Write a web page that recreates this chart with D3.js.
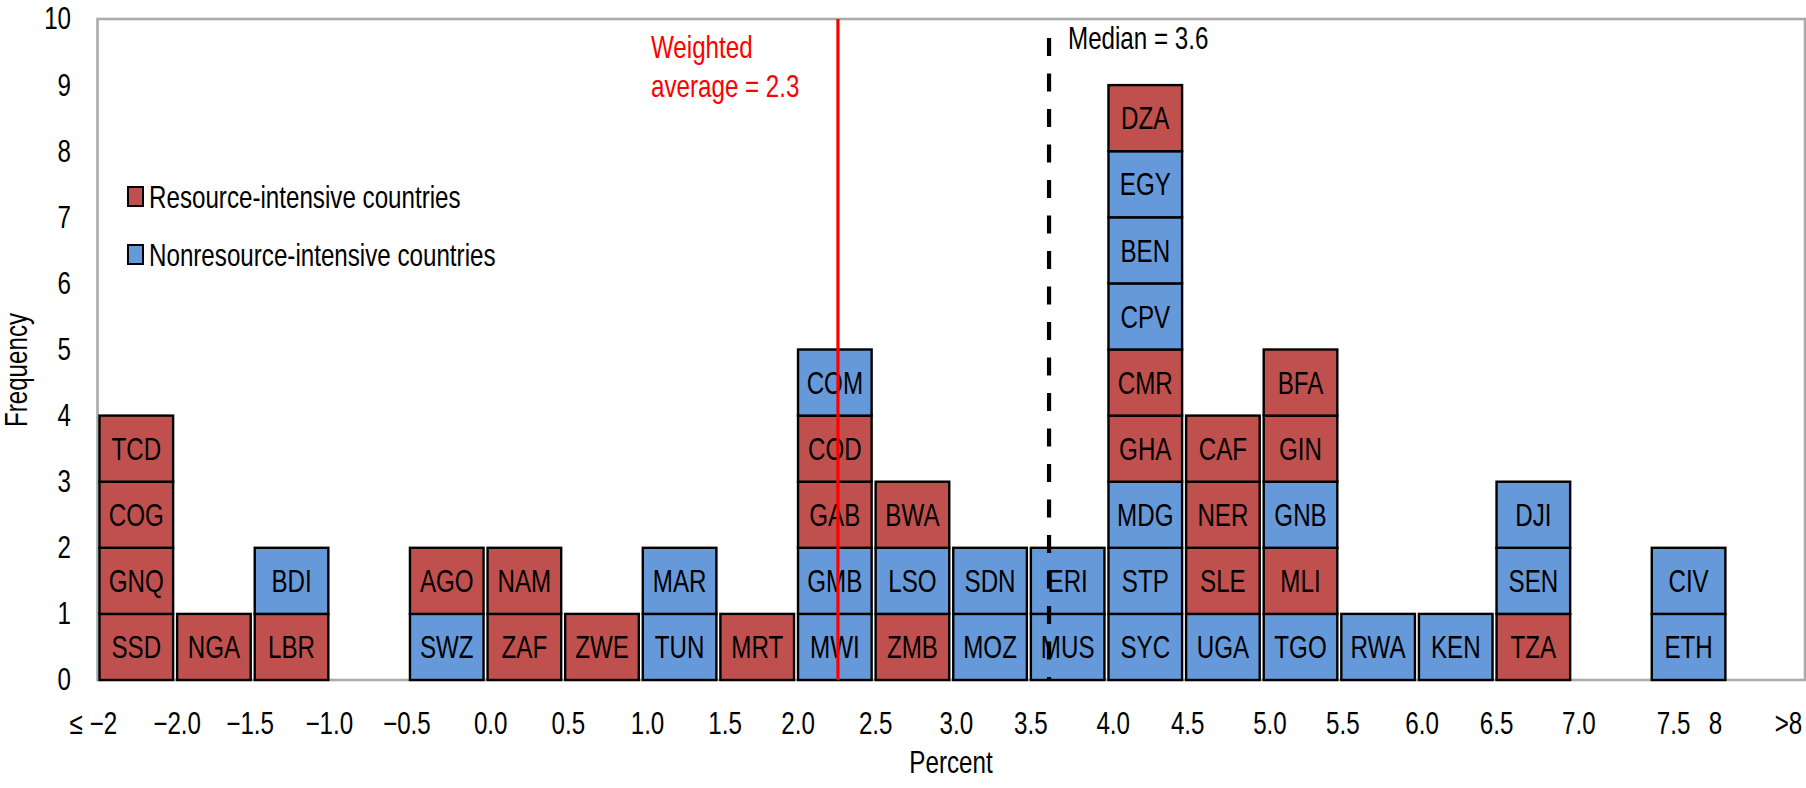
<!DOCTYPE html>
<html>
<head>
<meta charset="utf-8">
<script src="https://cdn.jsdelivr.net/npm/d3@7"></script>
<style>
  html, body { margin: 0; padding: 0; background: #fff; }
  svg { display: block; }
  text { font-family: "Liberation Sans Narrow", "Liberation Sans", Arial, sans-serif; fill: #000; }
</style>
</head>
<body>
<svg id="chart" width="1806" height="788"></svg>
<script>
// ---------------- DATA ----------------
// Bin start values (percent); each bin is 0.5 wide. First bin = "≤ −2", last bin = "> 8".
const binStarts = [-2.5, -2.0, -1.5, -1.0, -0.5, 0.0, 0.5, 1.0, 1.5, 2.0, 2.5, 3.0, 3.5, 4.0, 4.5, 5.0, 5.5, 6.0, 6.5, 7.0, 7.5, 8.0];
// Countries stacked in each bin, bottom to top
const binCountries = [
  ["SSD", "GNQ", "COG", "TCD"],
  ["NGA"],
  ["LBR", "BDI"],
  [],
  ["SWZ", "AGO"],
  ["ZAF", "NAM"],
  ["ZWE"],
  ["TUN", "MAR"],
  ["MRT"],
  ["MWI", "GMB", "GAB", "COD", "COM"],
  ["ZMB", "LSO", "BWA"],
  ["MOZ", "SDN"],
  ["MUS", "ERI"],
  ["SYC", "STP", "MDG", "GHA", "CMR", "CPV", "BEN", "EGY", "DZA"],
  ["UGA", "SLE", "NER", "CAF"],
  ["TGO", "MLI", "GNB", "GIN", "BFA"],
  ["RWA"],
  ["KEN"],
  ["TZA", "SEN", "DJI"],
  [],
  ["ETH", "CIV"],
  []
];
const resourceIntensive = ["SSD", "GNQ", "COG", "TCD", "NGA", "LBR", "AGO", "ZAF", "NAM", "ZWE", "MRT",
  "GAB", "COD", "ZMB", "BWA", "GHA", "CMR", "DZA", "SLE", "NER", "CAF", "MLI", "GIN", "BFA", "TZA"];
const seriesNames = ["Resource-intensive countries", "Nonresource-intensive countries"];

const xTickLabels = ["≤ −2", "−2.0", "−1.5", "−1.0", "−0.5", "0.0", "0.5", "1.0", "1.5", "2.0", "2.5", "3.0",
  "3.5", "4.0", "4.5", "5.0", "5.5", "6.0", "6.5", "7.0", "7.5", "8", ">8"];
const xTickValues = [-2.53, -1.99, -1.52, -1.01, -0.51, 0.03, 0.53, 1.04, 1.54, 2.01, 2.51, 3.03,
  3.51, 4.04, 4.52, 5.05, 5.52, 6.03, 6.51, 7.04, 7.65, 7.92, 8.39];
const yTickValues = [0, 1, 2, 3, 4, 5, 6, 7, 8, 9, 10];

const weightedAverage = 2.27;
const weightedLabel = ["Weighted", "average = 2.3"];
const median = 3.63;
const medianLabel = "Median = 3.6";

// ---------------- STYLE ----------------
const colors = { R: "#C0504D", N: "#6699D9" };
const svg = d3.select("#chart");
const plot = { left: 97.5, right: 1805, top: 19, bottom: 680 };
const fs = 31;      // font size
const sx = 0.78;    // horizontal compression to emulate a condensed face

function narrowText(parent, px, py, str, rotate) {
  return parent.append("text")
    .attr("transform", `translate(${px},${py})${rotate ? " rotate(" + rotate + ")" : ""} scale(${sx},1)`)
    .style("font-size", fs + "px")
    .text(str);
}

const x = d3.scaleLinear().domain([-2.5, 8.5]).range([plot.left, plot.right]);
const y = d3.scaleLinear().domain([0, 10]).range([plot.bottom, plot.top]);

// frame
svg.append("rect")
  .attr("x", plot.left).attr("y", plot.top)
  .attr("width", plot.right - plot.left).attr("height", plot.bottom - plot.top)
  .attr("fill", "none").attr("stroke", "#ABABAB").attr("stroke-width", 2.6);

// boxes
const cells = [];
binStarts.forEach((s, i) => {
  binCountries[i].forEach((c, k) => cells.push({ start: s, level: k, code: c,
    type: resourceIntensive.includes(c) ? "R" : "N" }));
});
const g = svg.append("g");
const cell = g.selectAll("g.cell").data(cells).join("g").attr("class", "cell");
cell.append("rect")
  .attr("x", d => x(d.start) + 2)
  .attr("width", d => x(d.start + 0.5) - x(d.start) - 4)
  .attr("y", d => y(d.level + 1))
  .attr("height", d => y(d.level) - y(d.level + 1))
  .attr("fill", d => colors[d.type])
  .attr("stroke", "#000").attr("stroke-width", 2.4);
cell.append("text")
  .attr("transform", d => `translate(${(x(d.start) + x(d.start + 0.5)) / 2},${(y(d.level) + y(d.level + 1)) / 2}) scale(${sx},1)`)
  .attr("dy", "0.36em")
  .attr("text-anchor", "middle")
  .style("font-size", fs + "px")
  .text(d => d.code);

// weighted average line
svg.append("line")
  .attr("x1", x(weightedAverage)).attr("x2", x(weightedAverage))
  .attr("y1", plot.top).attr("y2", plot.bottom)
  .attr("stroke", "#FF0000").attr("stroke-width", 3.2);
weightedLabel.forEach((t, i) => {
  narrowText(svg, 651, 58 + i * 39, t).style("fill", "#FF0000");
});

// median line
svg.append("line")
  .attr("x1", x(median)).attr("x2", x(median))
  .attr("y1", 26).attr("y2", plot.bottom)
  .attr("stroke", "#000").attr("stroke-width", 4.2)
  .attr("stroke-dasharray", "18,17.5").attr("stroke-dashoffset", 23.5);
narrowText(svg, 1068, 49, medianLabel);

// axes
const yAxis = svg.append("g")
  .attr("transform", `translate(${plot.left},0)`)
  .call(d3.axisLeft(y).tickValues(yTickValues).tickSize(0).tickPadding(26.5).tickFormat(d3.format("d")));
yAxis.select(".domain").remove();
yAxis.selectAll("text")
  .attr("font-family", null).attr("font-size", null)
  .style("font-size", fs + "px")
  .attr("x", -26.5 / sx)
  .attr("transform", `scale(${sx},1)`);

const xAxis = svg.append("g")
  .attr("transform", `translate(0,${plot.bottom})`)
  .call(d3.axisBottom(x).tickValues(xTickValues).tickSize(0).tickPadding(32)
    .tickFormat((d, i) => xTickLabels[i]));
xAxis.select(".domain").remove();
xAxis.selectAll("text")
  .attr("font-family", null).attr("font-size", null)
  .style("font-size", fs + "px")
  .attr("transform", `scale(${sx},1)`);

// axis titles
narrowText(svg, 27, 370, "Frequency", -90).attr("text-anchor", "middle");
narrowText(svg, 951, 773, "Percent").attr("text-anchor", "middle");

// legend
const legendItems = svg.append("g").selectAll("g").data(seriesNames).join("g")
  .attr("transform", (d, i) => `translate(128,${187 + i * 58})`);
legendItems.append("rect")
  .attr("width", 15).attr("height", 19)
  .attr("fill", (d, i) => i === 0 ? colors.R : colors.N)
  .attr("stroke", "#000").attr("stroke-width", 2);
legendItems.append("text")
  .attr("transform", `translate(21,9.5) scale(${sx},1)`)
  .attr("dy", "0.36em")
  .style("font-size", fs + "px")
  .text(d => d);
</script>
</body>
</html>
